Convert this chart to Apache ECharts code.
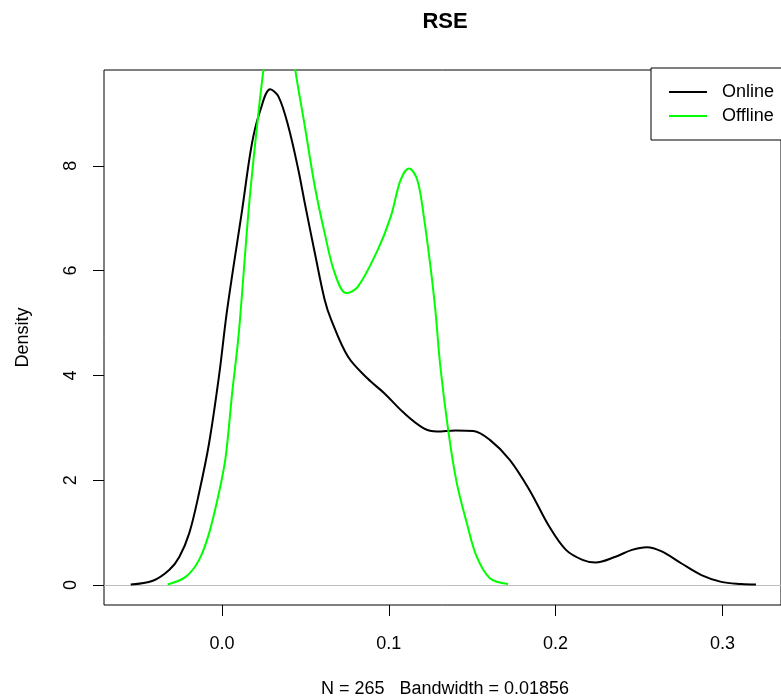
<!DOCTYPE html>
<html>
<head>
<meta charset="utf-8">
<script src="https://cdn.jsdelivr.net/npm/echarts@6/dist/echarts.min.js"></script>
<style>html,body{margin:0;padding:0;background:#fff;}#c{width:781px;height:700px;}</style>
</head>
<body>
<div id="c"></div>
<script>
var titleText = 'RSE';
var subtitleText = 'N = 265   Bandwidth = 0.01856';
var yAxisName = 'Density';
var seriesNames = ['Online', 'Offline'];
var xTicks = [0, 0.1, 0.2, 0.3];
var yTicks = [0, 2, 4, 6, 8];

var onlineX = [-0.0547, -0.0414, -0.0315, -0.0255, -0.0196, -0.0137, -0.0077, -0.0018, 0.0031, 0.0121, 0.0180, 0.0230, 0.0289, 0.0339, 0.0398, 0.0458, 0.0497, 0.0557, 0.0616, 0.0655, 0.0755, 0.0873, 0.0973, 0.1092, 0.1210, 0.1289, 0.1400, 0.1507, 0.1606, 0.1725, 0.1844, 0.1963, 0.2062, 0.2161, 0.2240, 0.2359, 0.2458, 0.2547, 0.2636, 0.2755, 0.2874, 0.2993, 0.3112, 0.3201];
var onlineY = [0.01, 0.08, 0.29, 0.54, 0.99, 1.76, 2.71, 3.98, 5.25, 7.16, 8.43, 9.06, 9.46, 9.32, 8.75, 7.92, 7.28, 6.33, 5.44, 5.06, 4.36, 3.94, 3.66, 3.28, 2.99, 2.93, 2.95, 2.94, 2.77, 2.39, 1.81, 1.11, 0.67, 0.48, 0.43, 0.54, 0.67, 0.72, 0.64, 0.41, 0.19, 0.06, 0.02, 0.01];

var offlineX = [-0.0325, -0.0216, -0.0137, -0.0077, -0.0018, 0.0022, 0.0061, 0.0101, 0.0160, 0.0210, 0.0250, 0.0300, 0.0350, 0.0400, 0.0438, 0.0497, 0.0557, 0.0616, 0.0676, 0.0745, 0.0814, 0.0933, 0.1012, 0.1071, 0.1121, 0.1171, 0.1210, 0.1250, 0.1279, 0.1309, 0.1359, 0.1408, 0.1468, 0.1527, 0.1606, 0.1715];
var offlineY = [0.01, 0.16, 0.48, 0.99, 1.76, 2.44, 3.66, 4.81, 7.16, 8.75, 9.86, 10.9, 11.2, 10.8, 9.86, 8.75, 7.60, 6.71, 5.95, 5.57, 5.69, 6.39, 7.03, 7.73, 7.95, 7.73, 7.03, 6.07, 5.25, 4.17, 2.89, 1.94, 1.18, 0.54, 0.13, 0.02];

function pairs(xs, ys) { return xs.map(function (x, i) { return [x, ys[i]]; }); }

var FONT = '"Liberation Sans", Arial, sans-serif';
var chart = echarts.init(document.getElementById('c'), null, {renderer: 'canvas'});
chart.setOption({
  animation: false,
  backgroundColor: '#ffffff',
  grid: {left: 104, top: 70, width: 683, height: 535, show: true, borderColor: '#000', borderWidth: 1, backgroundColor: 'transparent', containLabel: false},
  graphic: [
    {type: 'text', x: 445, y: 22, style: {text: titleText, font: 'bold 22px ' + FONT, fill: '#000', textAlign: 'center', textVerticalAlign: 'middle'}},
    {type: 'text', x: 445, y: 689, style: {text: subtitleText, font: '18px ' + FONT, fill: '#000', textAlign: 'center', textVerticalAlign: 'middle'}}
  ],
  legend: {
    orient: 'vertical', left: 651, top: 68,
    padding: [15, 20, 15, 18],
    icon: 'rect',
    itemWidth: 38, itemHeight: 2, itemGap: 6,
    borderColor: '#000', borderWidth: 1, borderRadius: 0,
    backgroundColor: '#fff',
    textStyle: {fontSize: 18, fontFamily: FONT, color: '#000', padding: [0, 0, 0, 10]},
    data: seriesNames
  },
  xAxis: {
    type: 'value', min: -0.07071, max: 0.33511,
    axisLine: {show: false, onZero: false},
    splitLine: {show: false},
    axisTick: {show: true, customValues: xTicks, length: 11, lineStyle: {color: '#000', width: 1}},
    axisLabel: {customValues: xTicks, margin: 30, fontSize: 18, fontFamily: FONT, color: '#000', formatter: function (v) { return v.toFixed(1); }}
  },
  yAxis: {
    type: 'value', min: -0.3817, max: 9.828,
    name: yAxisName, nameLocation: 'middle', nameGap: 72, nameRotate: 90,
    nameTextStyle: {fontSize: 18, fontFamily: FONT, color: '#000'},
    axisLine: {show: false, onZero: false},
    splitLine: {show: false},
    axisTick: {show: true, customValues: yTicks, length: 11, lineStyle: {color: '#000', width: 1}},
    axisLabel: {customValues: yTicks, rotate: 90, margin: 24, fontSize: 18, fontFamily: FONT, color: '#000'}
  },
  series: [
    {
      name: seriesNames[0], type: 'line', data: pairs(onlineX, onlineY),
      showSymbol: false, symbol: 'none', smooth: 0.35, clip: true,
      lineStyle: {color: '#000000', width: 2}, itemStyle: {color: '#000000'},
      z: 3,
      markLine: {silent: true, symbol: ['none', 'none'], label: {show: false}, z: 1,
        lineStyle: {color: '#bebebe', type: 'solid', width: 1},
        data: [{yAxis: 0}]}
    },
    {
      name: seriesNames[1], type: 'line', data: pairs(offlineX, offlineY),
      showSymbol: false, symbol: 'none', smooth: 0.35, clip: true,
      lineStyle: {color: '#00ff00', width: 2}, itemStyle: {color: '#00ff00'},
      z: 4
    }
  ]
});
</script>
</body>
</html>
